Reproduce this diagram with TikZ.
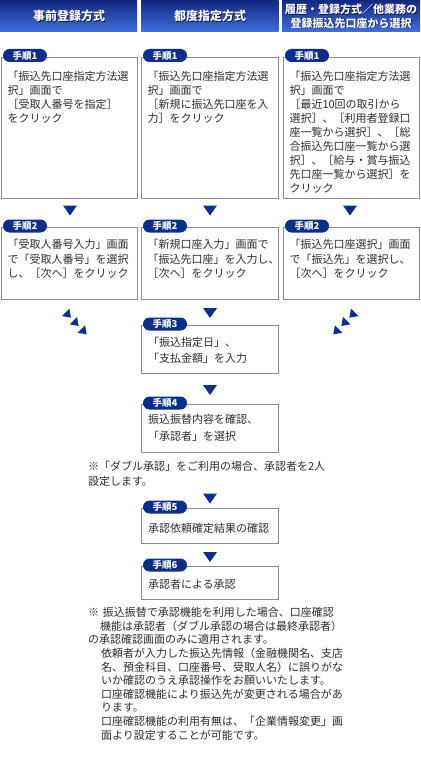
\documentclass[tikz,border=0pt]{standalone}
\usepackage{fontspec}
\setmainfont{Noto Sans CJK JP}
\definecolor{hdtop}{RGB}{18,40,128}
\definecolor{hdbot}{RGB}{64,110,220}
\definecolor{hdshade}{RGB}{10,22,70}
\definecolor{navy}{RGB}{12,46,140}
\definecolor{boxgray}{RGB}{140,140,140}
\definecolor{txt}{RGB}{45,45,45}
\tikzset{
  hdr/.style={rectangle, anchor=north west, minimum height=32pt, top color=hdtop, bottom color=hdbot, draw=none},
  hdtext/.style={text=white, align=center, font=\bfseries\fontsize{12pt}{13.5pt}\selectfont},
  hdsmall/.style={font=\bfseries\fontsize{11pt}{13.5pt}\selectfont},
  hdshadow/.style={text=hdshade},
  stepbox/.style={rectangle, draw=boxgray, line width=0.8pt, anchor=north west, fill=white},
  pill/.style={rectangle, fill=navy, rounded corners=6.5pt, minimum width=44pt, minimum height=13pt, text=white, font=\bfseries\fontsize{9.5pt}{10pt}\selectfont},
  boxtext/.style={anchor=north west, align=left, text=txt, font=\fontsize{11pt}{14pt}\selectfont},
  notetext/.style={anchor=north west, align=left, text=txt, font=\fontsize{11pt}{13.6pt}\selectfont},
  tridown/.pic={\fill[navy] (-7,-5) -- (7,-5) -- (0,5) -- cycle;}
}
\begin{document}
\begin{tikzpicture}[x=1pt,y=-1pt, every node/.append style={inner sep=0pt, outer sep=0pt}]
\useasboundingbox (0,0) rectangle (420,773);
\fill[white] (0,0) rectangle (420,773);
% headers
\node[hdr, minimum width=137pt] (h1) at (0,0) {};
\node[hdr, minimum width=137.5pt] (h2) at (141,0) {};
\node[hdr, minimum width=138pt] (h3) at (282,0) {};
\node[hdtext, hdshadow] (h1s) at (69.8,16.8) {事前登録方式};
\node[hdtext] (h1t) at (69,16) {事前登録方式};
\node[hdtext, hdshadow] (h2s) at (210.8,16.8) {都度指定方式};
\node[hdtext] (h2t) at (210,16) {都度指定方式};
\node[hdtext, hdsmall, hdshadow] (h3s) at (351.8,17) {履歴・登録方式／他業務の\\登録振込先口座から選択};
\node[hdtext, hdsmall] (h3t) at (351,16.2) {履歴・登録方式／他業務の\\登録振込先口座から選択};
% step 1
\node[stepbox, minimum width=136pt, minimum height=141pt] (b11) at (1,57) {};
\node[stepbox, minimum width=137pt, minimum height=141pt] (b12) at (141,57) {};
\node[stepbox, minimum width=136pt, minimum height=141pt] (b13) at (283,57) {};
\node[pill] (p11) at (25,55.5) {手順1};
\node[pill] (p12) at (165,55.5) {手順1};
\node[pill] (p13) at (307,55.5) {手順1};
\node[boxtext] (t11) at (7.5,71.5) {「振込先口座指定方法選\\択」画面で\\［受取人番号を指定］\\をクリック};
\node[boxtext] (t12) at (147.5,71.5) {「振込先口座指定方法選\\択」画面で\\［新規に振込先口座を入\\力］をクリック};
\node[boxtext] (t13) at (289.5,71.5) {「振込先口座指定方法選\\択」画面で\\［最近10回の取引から\\選択］、［利用者登録口\\座一覧から選択］、［総\\合振込先口座一覧から選\\択］、［給与・賞与振込\\先口座一覧から選択］を\\クリック};
% arrows to step 2
\pic at (70,210.5) {tridown};
\pic at (210,210.5) {tridown};
\pic at (350,210.5) {tridown};
% step 2
\node[stepbox, minimum width=136pt, minimum height=72pt] (b21) at (1,227) {};
\node[stepbox, minimum width=137pt, minimum height=72pt] (b22) at (141,227) {};
\node[stepbox, minimum width=136pt, minimum height=72pt] (b23) at (283,227) {};
\node[pill] (p21) at (25,226) {手順2};
\node[pill] (p22) at (165,226) {手順2};
\node[pill] (p23) at (307,226) {手順2};
\node[boxtext, font=\fontsize{11pt}{14.5pt}\selectfont] (t21) at (7.5,239.5) {「受取人番号入力」画面\\で「受取人番号」を選択\\し、［次へ］をクリック};
\node[boxtext, font=\fontsize{11pt}{14.5pt}\selectfont] (t22) at (147.5,239.5) {「新規口座入力」画面で\\「振込先口座」を入力し、\\［次へ］をクリック};
\node[boxtext, font=\fontsize{11pt}{14.5pt}\selectfont] (t23) at (289.5,239.5) {「振込先口座選択」画面\\で「振込先」を選択し、\\［次へ］をクリック};
% merging arrows
\pic[rotate=45, scale=0.75] at (68.3,315) {tridown};
\pic[rotate=45, scale=0.75] at (76,323.3) {tridown};
\pic[rotate=45, scale=0.75] at (84,331.7) {tridown};
\pic[rotate=-45, scale=0.75] at (352,315) {tridown};
\pic[rotate=-45, scale=0.75] at (344,323.3) {tridown};
\pic[rotate=-45, scale=0.75] at (336,331.7) {tridown};
% step 3
\pic at (210,313) {tridown};
\node[stepbox, minimum width=137pt, minimum height=48pt] (b3) at (141,325) {};
\node[pill] (p3) at (165,324) {手順3};
\node[boxtext, font=\fontsize{11pt}{16pt}\selectfont] (t3) at (148,337.5) {「振込指定日」、\\「支払金額」を入力};
% step 4
\pic at (210,390) {tridown};
\node[stepbox, minimum width=137pt, minimum height=48pt] (b4) at (141,404) {};
\node[pill] (p4) at (165,403) {手順4};
\node[boxtext, font=\fontsize{11pt}{17pt}\selectfont] (t4) at (148,414.5) {振込振替内容を確認、\\「承認者」を選択};
% note 1
\node[notetext, font=\fontsize{11pt}{15pt}\selectfont] (n1) at (88,461.5) {※「ダブル承認」をご利用の場合、承認者を2人\\設定します。};
% step 5
\pic at (210,498.5) {tridown};
\node[stepbox, minimum width=137pt, minimum height=35pt] (b5) at (141,508) {};
\node[pill] (p5) at (165,507) {手順5};
\node[boxtext] (t5) at (148,523.5) {承認依頼確定結果の確認};
% step 6
\pic at (210,557) {tridown};
\node[stepbox, minimum width=137pt, minimum height=33pt] (b6) at (141,566) {};
\node[pill] (p6) at (165,565) {手順6};
\node[boxtext] (t6) at (148,579.5) {承認者による承認};
% note 2
\node[notetext] (n2) at (88,607.5) {※\hspace{4pt}振込振替で承認機能を利用した場合、口座確認\\
\hspace*{12pt}機能は承認者（ダブル承認の場合は最終承認者）\\
の承認確認画面のみに適用されます。\\
\hspace*{13pt}依頼者が入力した振込先情報（金融機関名、支店\\
\hspace*{13pt}名、預金科目、口座番号、受取人名）に誤りがな\\
\hspace*{13pt}いか確認のうえ承認操作をお願いいたします。\\
\hspace*{13pt}口座確認機能により振込先が変更される場合があ\\
\hspace*{13pt}ります。\\
\hspace*{13pt}口座確認機能の利用有無は、「企業情報変更」画\\
\hspace*{13pt}面より設定することが可能です。};
\end{tikzpicture}
\end{document}
